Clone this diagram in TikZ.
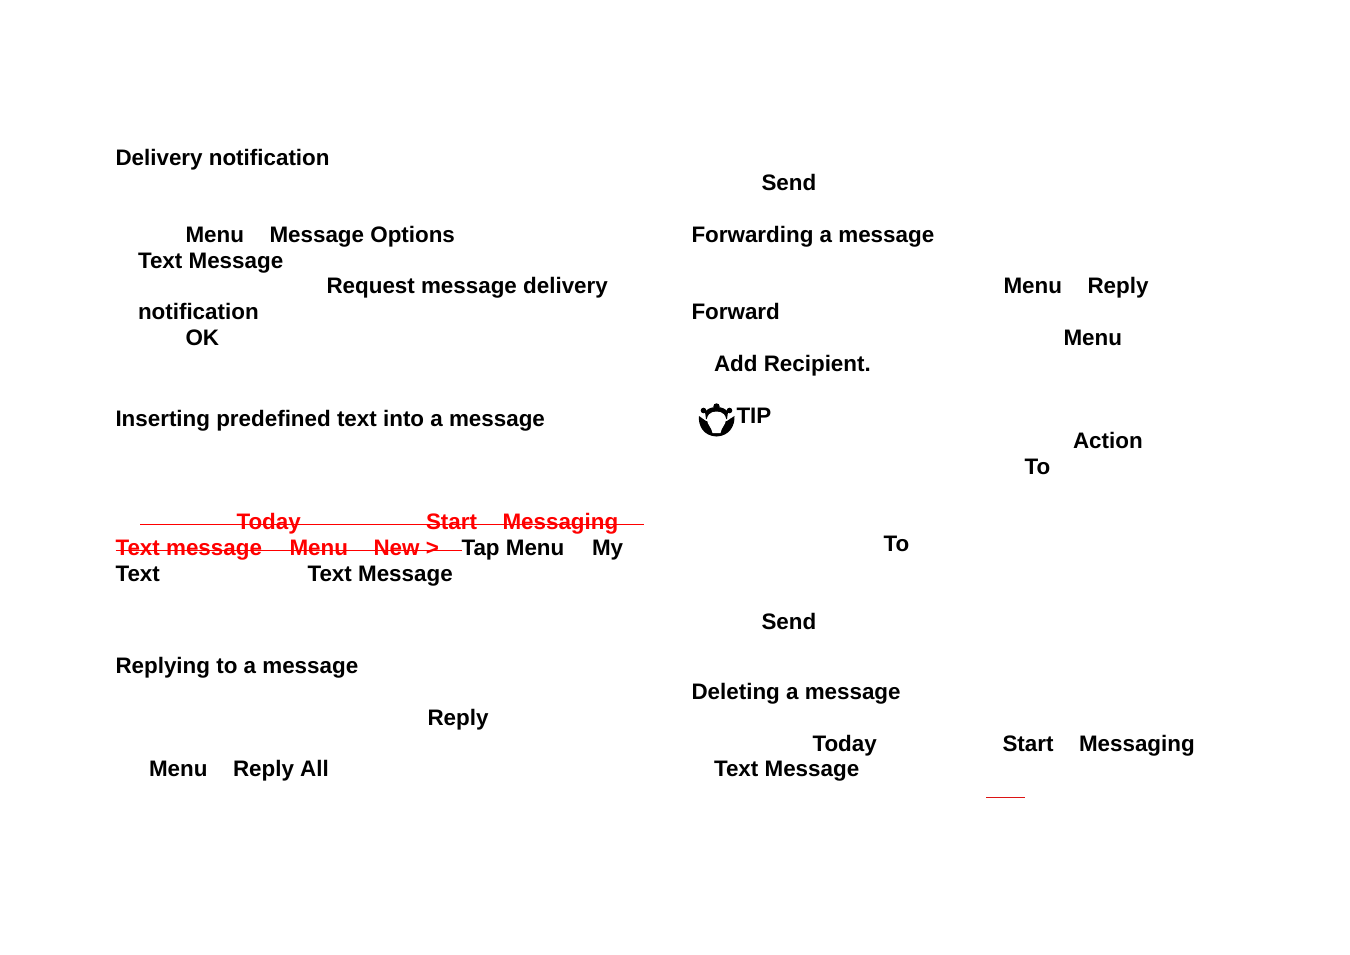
\documentclass[tikz,border=0pt]{standalone}
\usepackage{fontspec}
\setmainfont{Liberation Sans}
\definecolor{strike}{RGB}{255,0,0}
\definecolor{underl}{RGB}{220,20,20}
\tikzset{
 lab/.style={anchor=base west,inner sep=0pt,outer sep=0pt,font=\fontsize{22.4}{26}\selectfont\bfseries},
 redlab/.style={lab,text=strike},
 strikeline/.style={draw=strike,line width=1pt},
}
\begin{document}
\begin{tikzpicture}[x=1pt,y=-1pt]
\useasboundingbox (0,0) rectangle (1350,954);
\fill[white] (0,0) rectangle (1350,954);
% left column
\node[lab] (a1) at (115.5,165) {Delivery notification};
\node[lab] (a2) at (185.5,242) {Menu};
\node[lab] (a3) at (269.5,242) {Message Options};
\node[lab] (a4) at (138,268) {Text Message};
\node[lab] (a5) at (326.5,293) {Request message delivery};
\node[lab] (a6) at (138,319) {notification};
\node[lab] (a7) at (185.5,345) {OK};
\node[lab] (a8) at (115.5,426) {Inserting predefined text into a message};
\node[redlab] (r1) at (236.5,529) {Today};
\node[redlab] (r2) at (426,529) {Start};
\node[redlab] (r3) at (502.5,529) {Messaging};
\node[redlab] (r4) at (115.5,555) {Text message};
\node[redlab] (r5) at (289.5,555) {Menu};
\node[redlab] (r6) at (373.5,555) {New >};
\node[lab] (a9) at (461.5,555) {Tap Menu};
\node[lab] (a10) at (592,555) {My};
\node[lab] (a11) at (115.5,581) {Text};
\node[lab] (a12) at (307.5,581) {Text Message};
\node[lab] (a13) at (115.5,673) {Replying to a message};
\node[lab] (a14) at (427.5,725) {Reply};
\node[lab] (a15) at (149,776) {Menu};
\node[lab] (a16) at (233,776) {Reply All};
% right column
\node[lab] (b1) at (761.5,190) {Send};
\node[lab] (b2) at (691.5,242) {Forwarding a message};
\node[lab] (b3) at (1003.5,293) {Menu};
\node[lab] (b4) at (1087.5,293) {Reply};
\node[lab] (b5) at (691.5,319) {Forward};
\node[lab] (b6) at (1063.5,345) {Menu};
\node[lab] (b7) at (714,371) {Add Recipient.};
\node[lab] (b8) at (736.5,423) {TIP};
\node[lab] (b9) at (1073,448) {Action};
\node[lab] (b10) at (1024.5,474) {To};
\node[lab] (b11) at (883.5,551) {To};
\node[lab] (b12) at (761.5,629) {Send};
\node[lab] (b13) at (691.5,699) {Deleting a message};
\node[lab] (b14) at (812.5,751) {Today};
\node[lab] (b15) at (1002.5,751) {Start};
\node[lab] (b16) at (1079,751) {Messaging};
\node[lab] (b17) at (714,776) {Text Message};
% strike-through rules
\coordinate (s1a) at (140,524); \coordinate (s1b) at (644,524);
\coordinate (s2a) at (115.5,550); \coordinate (s2b) at (461.5,550);
\draw[strikeline] (s1a) -- (s1b);
\draw[strikeline] (s2a) -- (s2b);
\coordinate (u1a) at (986,797.5); \coordinate (u1b) at (1025,797.5);
\draw[draw=underl,line width=0.9pt] (u1a) -- (u1b);
% tip icon
\fill[black] (699,416) .. controls (698,425) and (703,436) .. (716.5,436.5)
  .. controls (730,436) and (735,425) .. (734.5,416)
  .. controls (732,418) and (729,419) .. (727,421) -- (706,421)
  .. controls (704,419) and (701,418) .. (699,416) -- cycle;
\fill[black] (705,412) .. controls (707,409) and (711,407) .. (716.5,407)
  .. controls (722,407) and (726,409) .. (728,412) -- (727,419) -- (706,419) -- cycle;
\fill[black] (716.5,406.5) circle (3.2);
\fill[black] (703.5,410.5) circle (2.8);
\fill[black] (729.5,410.5) circle (2.8);
\fill[white] (716.5,411.5) .. controls (710,411.5) and (706.5,416) .. (707,420)
  .. controls (707.5,425) and (711.5,427) .. (712.5,433) -- (720.5,433)
  .. controls (721.5,427) and (725.5,425) .. (726,420)
  .. controls (726.5,416) and (723,411.5) .. (716.5,411.5) -- cycle;
\end{tikzpicture}
\end{document}
